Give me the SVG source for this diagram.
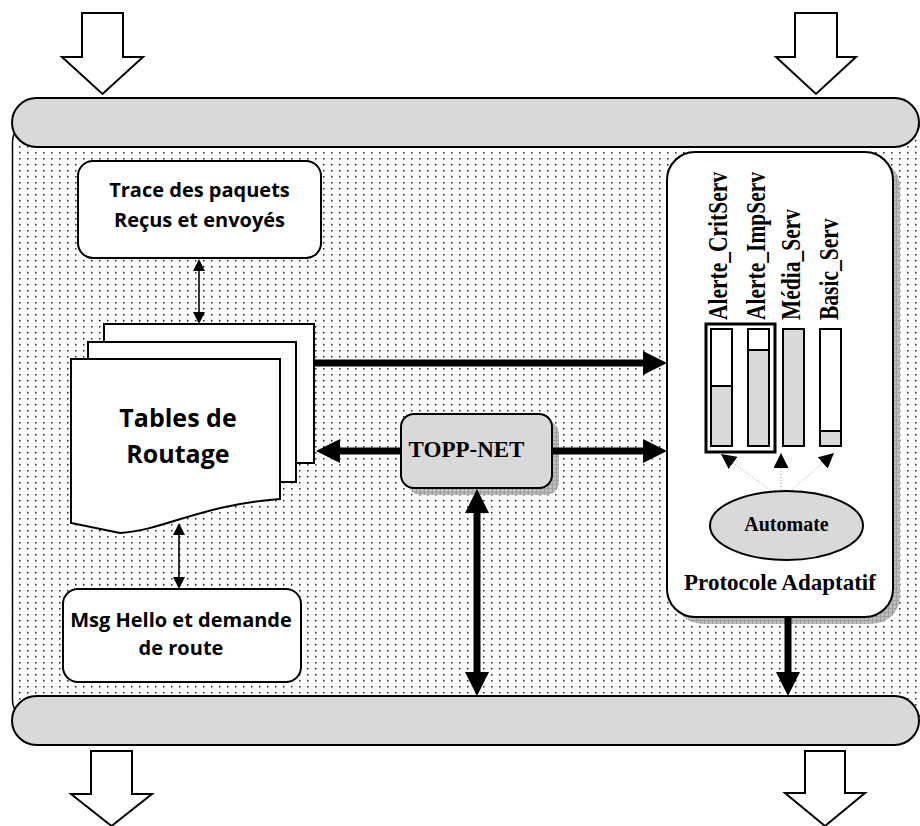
<svg xmlns="http://www.w3.org/2000/svg" width="920" height="826" viewBox="0 0 920 826">
<defs>
<style>
.sans{font-family:"Open Sans","Noto Sans","Liberation Sans",sans-serif;font-weight:bold;fill:#000;text-anchor:middle}
.serif{font-family:"Liberation Serif","Times New Roman",serif;font-weight:bold;fill:#000}
.box{fill:#fff;stroke:#000;stroke-width:2}
.gray{fill:#d9d9d9;stroke:#000;stroke-width:2}
.bar{fill:#fff;stroke:#000;stroke-width:2}
.barfill{fill:#d9d9d9;stroke:#000;stroke-width:2}
.thick{stroke:#000;stroke-width:7;fill:none}
.thin{stroke:#000;stroke-width:1.6;fill:none}
.dot{stroke:#9a9a9a;stroke-width:1;stroke-dasharray:1 2;fill:none}
.shadow{fill:url(#hatch)}
</style>
<pattern id="dots" x="0" y="0" width="8" height="6" patternUnits="userSpaceOnUse">
<rect x="3" y="2" width="1.5" height="1.5" fill="#222"/>
</pattern>
<pattern id="hatch" x="0" y="0" width="4" height="4" patternUnits="userSpaceOnUse">
<rect width="4" height="4" fill="#bdbdbd"/>
<path d="M0,0.5H4M0.5,0V4" stroke="#a0a0a0" stroke-width="1"/>
</pattern>
<marker id="bigHead" viewBox="0 0 10 10" refX="0" refY="5" markerWidth="24" markerHeight="24" markerUnits="userSpaceOnUse" orient="auto-start-reverse">
<path d="M0,0L10,5L0,10z" fill="#000"/>
</marker>
<marker id="smallHead" viewBox="0 0 10 10" refX="0" refY="5" markerWidth="12" markerHeight="12" markerUnits="userSpaceOnUse" orient="auto-start-reverse">
<path d="M0,0L10,5L0,10z" fill="#000"/>
</marker>
<marker id="dotHead" viewBox="0 0 10 10" refX="10" refY="5" markerWidth="15" markerHeight="15" markerUnits="userSpaceOnUse" orient="auto">
<path d="M0,0L10,5L0,10z" fill="#000"/>
</marker>
</defs>

<g id="background">
<rect x="12.5" y="122" width="915" height="598" rx="20" fill="#fff" stroke="#000" stroke-width="1.5"/>
<rect x="12.5" y="122" width="915" height="598" rx="20" fill="url(#dots)"/>
</g>

<g id="bus-top">
<rect x="12" y="98" width="907" height="49" rx="24.5" class="gray"/>
</g>
<g id="bus-bottom">
<rect x="12" y="696" width="907" height="49" rx="24.5" class="gray"/>
</g>

<g id="in-left">
<polygon points="82,13 123,13 123,57 143,57 102.5,94 62,57 82,57" class="box"/>
</g>
<g id="in-right">
<polygon points="795,13 837,13 837,57 856,57 816,94 776,57 795,57" class="box"/>
</g>
<g id="out-left">
<polygon points="91,751 132,751 132,794 152,794 111.5,826 71,794 91,794" class="box"/>
</g>
<g id="out-right">
<polygon points="805,751 845,751 845,793 865,793 825,826 785,793 805,793" class="box"/>
</g>

<g id="trace">
<rect x="78" y="161" width="243" height="97" rx="15" class="box"/>
<text class="sans" x="199.5" y="197" font-size="20">Trace des paquets</text>
<text class="sans" x="199.5" y="227" font-size="20">Reçus et envoyés</text>
</g>

<g id="tables">
<rect x="104" y="324" width="210" height="139" class="box"/>
<rect x="88" y="342" width="208" height="140" class="box"/>
<path d="M71,359H280V499C200,505 165,530 120,533L71,523Z" class="box"/>
<text class="sans" x="178" y="427" font-size="25">Tables de</text>
<text class="sans" x="178" y="463" font-size="25">Routage</text>
</g>

<g id="hello">
<rect x="63" y="589" width="238" height="93" rx="15" class="box"/>
<text class="sans" x="181" y="627" font-size="20">Msg Hello et demande</text>
<text class="sans" x="181" y="655" font-size="20">de route</text>
</g>

<g id="protocole">
<rect x="674" y="159" width="226" height="465" rx="28" class="shadow"/>
<rect x="667" y="152" width="226" height="465" rx="28" class="box"/>
<text class="serif" x="780" y="590" font-size="23" text-anchor="middle">Protocole Adaptatif</text>
<rect x="706" y="324" width="69" height="128" fill="none" stroke="#000" stroke-width="3"/>
<rect x="711" y="329" width="21" height="117" class="bar"/>
<rect x="711" y="386" width="21" height="60" class="barfill"/>
<rect x="748" y="329" width="21" height="117" class="bar"/>
<rect x="748" y="350" width="21" height="96" class="barfill"/>
<rect x="783" y="329" width="21" height="117" class="barfill"/>
<rect x="820" y="329" width="21" height="117" class="bar"/>
<rect x="820" y="431" width="21" height="15" class="barfill"/>
<text class="serif" font-size="21.5" transform="translate(727,320) rotate(-90) scale(1,1.25)">Alerte_CritServ</text>
<text class="serif" font-size="21.5" transform="translate(765,320) rotate(-90) scale(1,1.25)">Alerte_ImpServ</text>
<text class="serif" font-size="21.5" transform="translate(800,320) rotate(-90) scale(1,1.25)">Média_Serv</text>
<text class="serif" font-size="21.5" transform="translate(838,320) rotate(-90) scale(1,1.25)">Basic_Serv</text>
</g>

<g id="automate">
<ellipse cx="786.5" cy="525.5" rx="76.5" ry="34.5" class="gray"/>
<text class="serif" x="786.5" y="531" font-size="20" text-anchor="middle">Automate</text>
</g>

<g id="toppnet">
<rect x="408" y="421" width="151" height="74" rx="13" class="shadow"/>
<rect x="401" y="414" width="151" height="74" rx="13" class="gray"/>
<text class="serif" x="466.5" y="457" font-size="23" text-anchor="middle">TOPP-NET</text>
</g>

<g id="connectors">
<line x1="199" y1="271" x2="199" y2="312" class="thin" marker-start="url(#smallHead)" marker-end="url(#smallHead)"/>
<line x1="179" y1="535" x2="179" y2="577" class="thin" stroke-width="2" marker-start="url(#smallHead)" marker-end="url(#smallHead)"/>
<line x1="314" y1="363" x2="643" y2="363" class="thick" marker-end="url(#bigHead)"/>
<line x1="401" y1="451" x2="340" y2="451" class="thick" marker-end="url(#bigHead)"/>
<line x1="552" y1="451" x2="643" y2="451" class="thick" marker-end="url(#bigHead)"/>
<line x1="477" y1="513" x2="477" y2="672" class="thick" marker-start="url(#bigHead)" marker-end="url(#bigHead)"/>
<line x1="788" y1="617" x2="788" y2="672" class="thick" marker-end="url(#bigHead)"/>
<line x1="770" y1="490" x2="721" y2="454" class="dot" marker-end="url(#dotHead)"/>
<line x1="781" y1="490" x2="781" y2="453" class="dot" marker-end="url(#dotHead)"/>
<line x1="792" y1="490" x2="834" y2="453" class="dot" marker-end="url(#dotHead)"/>
</g>
</svg>
